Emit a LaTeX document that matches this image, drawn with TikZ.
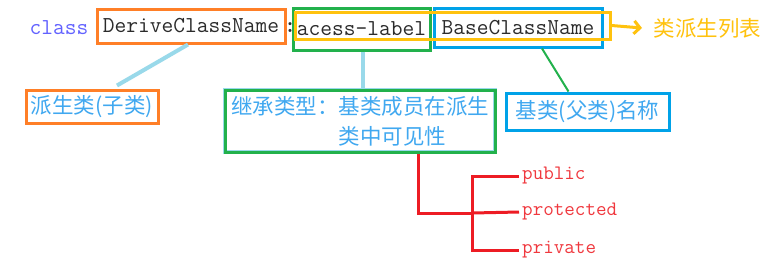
\documentclass[tikz,border=0pt]{standalone}
\usepackage{fontspec}
\newfontfamily\cjk{Noto Sans CJK SC}
\usetikzlibrary{positioning,arrows.meta,calc}
\definecolor{cdink}{HTML}{2B2B2B}
\definecolor{cdkey}{HTML}{6262FF}
\definecolor{cdorange}{HTML}{FF7F27}
\definecolor{cdgreen}{HTML}{22B14C}
\definecolor{cdyellow}{HTML}{FFC20E}
\definecolor{cdblue}{HTML}{00A2E8}
\definecolor{cdlabel}{HTML}{40A8F0}
\definecolor{cdconn}{HTML}{99D9EA}
\definecolor{cdred}{HTML}{ED1C24}
\definecolor{cdredtxt}{HTML}{F0383E}
\tikzset{
  code/.style={font=\ttfamily\fontsize{22.8}{26}\selectfont,text=cdink,inner sep=0pt},
  hl/.style={draw,line width=3pt,inner sep=0pt},
  tag/.style={font=\cjk\fontsize{21.5}{30}\selectfont,text=cdlabel,inner sep=0pt,line width=3pt},
  mode/.style={font=\ttfamily\fontsize{20.5}{24}\selectfont,text=cdredtxt,anchor=west,inner xsep=3pt,inner ysep=0pt},
  lnkpale/.style={draw=cdconn,line width=4pt},
  lnkgreen/.style={draw=cdgreen,line width=2pt},
  lnklist/.style={-{Straight Barb[length=6pt,width=13pt,line width=3pt]},draw=cdyellow,line width=3pt},
  tree/.style={draw=cdred,line width=3pt},
}
\begin{document}
\begin{tikzpicture}[x=1pt,y=-1pt]
  \useasboundingbox[fill=white] (0,0) rectangle (773,269);

  % declaration line
  \node[code,text=cdkey] (cls) at (59,28) {class};
  \node[code,hl,draw=cdorange,minimum width=188pt,minimum height=34pt] (derive) at (191,26) {DeriveClassName};
  \node[code,font=\ttfamily\bfseries\fontsize{22.8}{26}\selectfont] (colon) at (290,28) {:};
  \node[code,hl,draw=cdgreen,minimum width=137pt,minimum height=42pt] (access) at (361.5,29) {acess-label};
  \node[code,hl,draw=cdblue,minimum width=168pt,minimum height=39pt] (base) at (518,27.5) {BaseClassName};
  \node[hl,draw=cdyellow,minimum width=315pt,minimum height=27pt] (list) at (452.5,25.5) {};
  \node[tag,text=cdyellow,anchor=west] (listtag) at (652,28) {类派生列表};

  % labels
  \node[tag,hl,draw=cdorange,minimum width=132pt,minimum height=33pt] (sub) at (92,106.5) {派生类(子类)};
  \node[tag,hl,draw=cdgreen,preaction={draw=cdconn,line width=4.5pt},minimum width=270pt,minimum height=62pt,align=left] (inh) at (360,121)
    {\raisebox{-4pt}{继承类型：基类成员在派生}\\\raisebox{-4pt}{\phantom{继承类型：}类中可见性}};
  \node[tag,hl,draw=cdblue,minimum width=163pt,minimum height=37pt] (pname) at (587.5,111.5) {基类(父类)名称};

  % access modes
  \coordinate (fork) at (472,213);
  \node[mode] (pub) at (519,176) {public};
  \node[mode] (prot) at (519,212) {protected};
  \node[mode] (priv) at (519,250) {private};

  \draw[lnkpale] ([xshift=-3pt]derive.south) -- ([xshift=25pt,yshift=3pt]sub.north);
  \draw[lnkpale] ([xshift=1.5pt]access.south) -- ([xshift=3pt]inh.north);
  \draw[lnkgreen] ([xshift=24pt]base.south) -- ([xshift=-19pt]pname.north);
  \draw[lnklist] (list.east) -- ([xshift=-10pt]listtag.west);
  \draw[tree] ([xshift=58pt]inh.south) |- (fork);
  \draw[tree] (pub.west) -| (fork) |- (priv.west);
  \draw[tree] (fork) -- (prot.west);
\end{tikzpicture}
\end{document}
